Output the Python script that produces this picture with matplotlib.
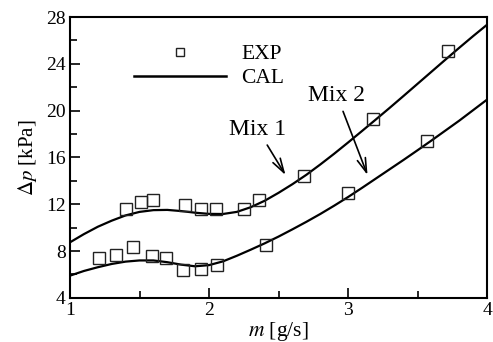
import matplotlib
matplotlib.use("Agg")
import matplotlib.pyplot as plt
from matplotlib.lines import Line2D

# ==========================================
# DATA
# ==========================================

# measured points (EXP)
mix1_m = [1.40, 1.51, 1.60, 1.83, 1.94, 2.05, 2.25, 2.36, 2.68, 3.18, 3.72]
mix1_dp = [11.6, 12.2, 12.4, 11.9, 11.6, 11.6, 11.6, 12.4, 14.4, 19.3, 25.1]

mix2_m = [1.21, 1.33, 1.45, 1.59, 1.69, 1.81, 1.94, 2.06, 2.41, 3.00, 3.57]
mix2_dp = [7.45, 7.7, 8.35, 7.6, 7.45, 6.4, 6.45, 6.8, 8.5, 12.95, 17.4]

# calculated curves (CAL)
cal_m = [1.0, 1.1, 1.2, 1.3, 1.4, 1.5, 1.6, 1.7, 1.8, 1.9, 2.0,
         2.1, 2.2, 2.3, 2.4, 2.5, 2.6, 2.7, 2.8, 2.9, 3.0,
         3.1, 3.2, 3.3, 3.4, 3.5, 3.6, 3.7, 3.8, 3.9, 4.0]
cal_mix1 = [8.75, 9.45, 10.08, 10.6, 11.05, 11.35, 11.5, 11.52, 11.42, 11.28, 11.18,
            11.17, 11.35, 11.75, 12.3, 12.98, 13.72, 14.52, 15.4, 16.32, 17.28,
            18.26, 19.25, 20.25, 21.27, 22.3, 23.33, 24.36, 25.38, 26.38, 27.35]
cal_mix2 = [5.9, 6.3, 6.62, 6.9, 7.1, 7.2, 7.2, 7.05, 6.84, 6.7, 6.8,
            7.12, 7.6, 8.12, 8.66, 9.24, 9.86, 10.5, 11.17, 11.88, 12.62,
            13.4, 14.2, 15.0, 15.8, 16.62, 17.45, 18.3, 19.15, 20.05, 20.95]

# ==========================================
# FIGURE
# ==========================================

plt.rcParams["font.family"] = ["Liberation Serif", "DejaVu Serif"]
plt.rcParams["mathtext.fontset"] = "stix"
plt.rcParams["font.size"] = 14

fig = plt.figure(figsize=(4.93, 3.42), dpi=100)
ax = fig.add_axes([0.142, 0.129, 0.846, 0.821])

ax.plot(cal_m, cal_mix1, color="black", lw=1.6)
ax.plot(cal_m, cal_mix2, color="black", lw=1.6)

ax.plot(mix1_m, mix1_dp, ls="none", marker="s", ms=8,
        mfc="none", mec="#222222", mew=1.0)
ax.plot(mix2_m, mix2_dp, ls="none", marker="s", ms=8,
        mfc="none", mec="#222222", mew=1.0)

ax.set_xlim(1, 4)
ax.set_ylim(4, 28)
ax.set_xticks([1, 2, 3, 4])
ax.set_xticks([1.5, 2.5, 3.5], minor=True)
ax.set_yticks([4, 8, 12, 16, 20, 24, 28])
ax.set_yticks([6, 10, 14, 18, 22, 26], minor=True)

ax.tick_params(which="both", direction="in", top=False, right=False, width=1.2)
ax.tick_params(which="major", length=7, pad=3)
ax.tick_params(which="minor", length=5)
for s in ax.spines.values():
    s.set_linewidth(1.5)

ax.set_xlabel("$m$ [g/s]", labelpad=1, fontsize=15.5)
ax.set_ylabel("$\\Delta p$ [kPa]", labelpad=5, fontsize=15)

# legend
handles = [
    Line2D([], [], ls="none", marker="s", ms=6, mfc="none", mec="#222222", mew=1.0),
    Line2D([], [], color="black", lw=1.8),
]
ax.legend(handles, ["EXP", "CAL"], loc="center left",
          bbox_to_anchor=(0.153, 0.825), frameon=False,
          handlelength=4.3, handletextpad=0.7, labelspacing=0.2,
          borderpad=0, borderaxespad=0, fontsize=15.5)

# labels for each mixture
arrow = dict(arrowstyle="->,head_length=0.6,head_width=0.18", color="black", lw=1.2,
             shrinkA=2, shrinkB=0)
ax.annotate("Mix 1", xy=(2.55, 14.5), xytext=(2.35, 18.4),
            ha="center", va="center", fontsize=17, arrowprops=arrow)
ax.annotate("Mix 2", xy=(3.14, 14.5), xytext=(2.92, 21.3),
            ha="center", va="center", fontsize=17, arrowprops=arrow)

fig.savefig("out.png", dpi=100)
